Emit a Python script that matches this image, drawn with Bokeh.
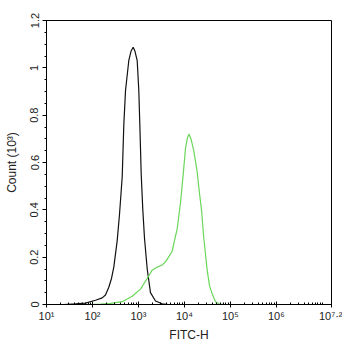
import numpy as np
from bokeh.plotting import figure
from bokeh.models import Range1d, FixedTicker
from bokeh.embed import file_html
from bokeh.resources import INLINE

# ---- data (x in log10 of FITC-H intensity, y in counts x10^3) ----
control_log_fitc = [1.370, 1.631, 1.848, 2.066, 2.212, 2.283, 2.355, 2.414, 2.464,
                    2.538, 2.588, 2.647, 2.682, 2.719, 2.790, 2.838, 2.886, 2.925,
                    2.973, 3.008, 3.030, 3.060, 3.095, 3.132, 3.191, 3.262, 3.371,
                    3.517, 3.654]
control_count = [0.000, 0.003, 0.006, 0.018, 0.028, 0.040, 0.073, 0.110, 0.158,
                 0.270, 0.380, 0.540, 0.760, 0.904, 1.030, 1.070, 1.087, 1.070,
                 1.030, 0.904, 0.763, 0.552, 0.400, 0.280, 0.150, 0.050, 0.015,
                 0.003, 0.000]

stained_log_fitc = [1.848, 2.175, 2.392, 2.647, 2.864, 3.045, 3.191, 3.299, 3.408,
                    3.517, 3.589, 3.654, 3.734, 3.784, 3.843, 3.915, 3.974, 4.024,
                    4.061, 4.096, 4.143, 4.204, 4.278, 4.328, 4.372, 4.422, 4.496,
                    4.546, 4.605, 4.676, 4.763, 4.872]
stained_count = [0.000, 0.002, 0.005, 0.012, 0.035, 0.065, 0.110, 0.145, 0.158,
                 0.167, 0.180, 0.200, 0.225, 0.270, 0.320, 0.430, 0.550, 0.660,
                 0.700, 0.720, 0.700, 0.650, 0.560, 0.470, 0.400, 0.280, 0.144,
                 0.080, 0.045, 0.012, 0.002, 0.000]

x_ticks = [1, 2, 3, 4, 5, 6, 7.2]
x_tick_labels = ["10\u00b9", "10\u00b2", "10\u00b3", "10\u2074", "10\u2075",
                 "10\u2076", "10\u2077\u00b7\u00b2"]
y_ticks = [0, 0.2, 0.4, 0.6, 0.8, 1.0, 1.2]
y_tick_labels = ["0", "0.2", "0.4", "0.6", "0.8", "1", "1.2"]

FONT = "Liberation Sans"

p = figure(width=342, height=344, output_backend="svg", toolbar_location=None,
           x_range=Range1d(1, 7.2), y_range=Range1d(0, 1.2),
           min_border_left=46, min_border_right=11, min_border_top=20,
           min_border_bottom=38)
p.xgrid.visible = False
p.ygrid.visible = False
p.outline_line_color = "black"
p.outline_line_width = 1
p.background_fill_color = "white"
p.border_fill_color = "white"

p.line(control_log_fitc, control_count, line_color="#111111", line_width=1.2)
p.line(stained_log_fitc, stained_count, line_color="#6ad65a", line_width=1.2)

# x axis: log-style decades
x_minor = []
for n in range(1, 7):
    for k in range(2, 10):
        x_minor.append(n + float(np.log10(k)))
x_minor.append(7.0)
p.xaxis.ticker = FixedTicker(ticks=x_ticks, minor_ticks=x_minor)
p.xaxis.major_label_overrides = {t: l for t, l in zip(x_ticks, x_tick_labels)}
p.xaxis.axis_label = "FITC-H"

y_minor = [round(i * 0.05, 2) for i in range(0, 25)]
p.yaxis.ticker = FixedTicker(ticks=y_ticks, minor_ticks=y_minor)
p.yaxis.major_label_overrides = {t: l for t, l in zip(y_ticks, y_tick_labels)}
p.yaxis.major_label_orientation = "vertical"
p.yaxis.axis_label = "Count (10\u00b3)"

for ax in (p.xaxis[0], p.yaxis[0]):
    ax.axis_line_color = "black"
    ax.major_tick_line_color = "black"
    ax.minor_tick_line_color = "black"
    ax.major_label_text_font = FONT
    ax.major_label_text_font_size = "11px"
    ax.major_label_text_color = "#222222"
    ax.axis_label_text_font = FONT
    ax.axis_label_text_font_size = "12px"
    ax.axis_label_text_font_style = "normal"
    ax.axis_label_text_color = "#222222"

p.xaxis.major_tick_in = 3
p.xaxis.major_tick_out = 3
p.xaxis.minor_tick_in = 2
p.xaxis.minor_tick_out = 0
p.xaxis.major_label_standoff = 2
p.xaxis.axis_label_standoff = 3

p.yaxis.major_tick_in = 0
p.yaxis.major_tick_out = 4
p.yaxis.minor_tick_in = 0
p.yaxis.minor_tick_out = 2
p.yaxis.major_label_standoff = 4
p.yaxis.axis_label_standoff = 9

open("out.html", "w").write(file_html(p, INLINE))
